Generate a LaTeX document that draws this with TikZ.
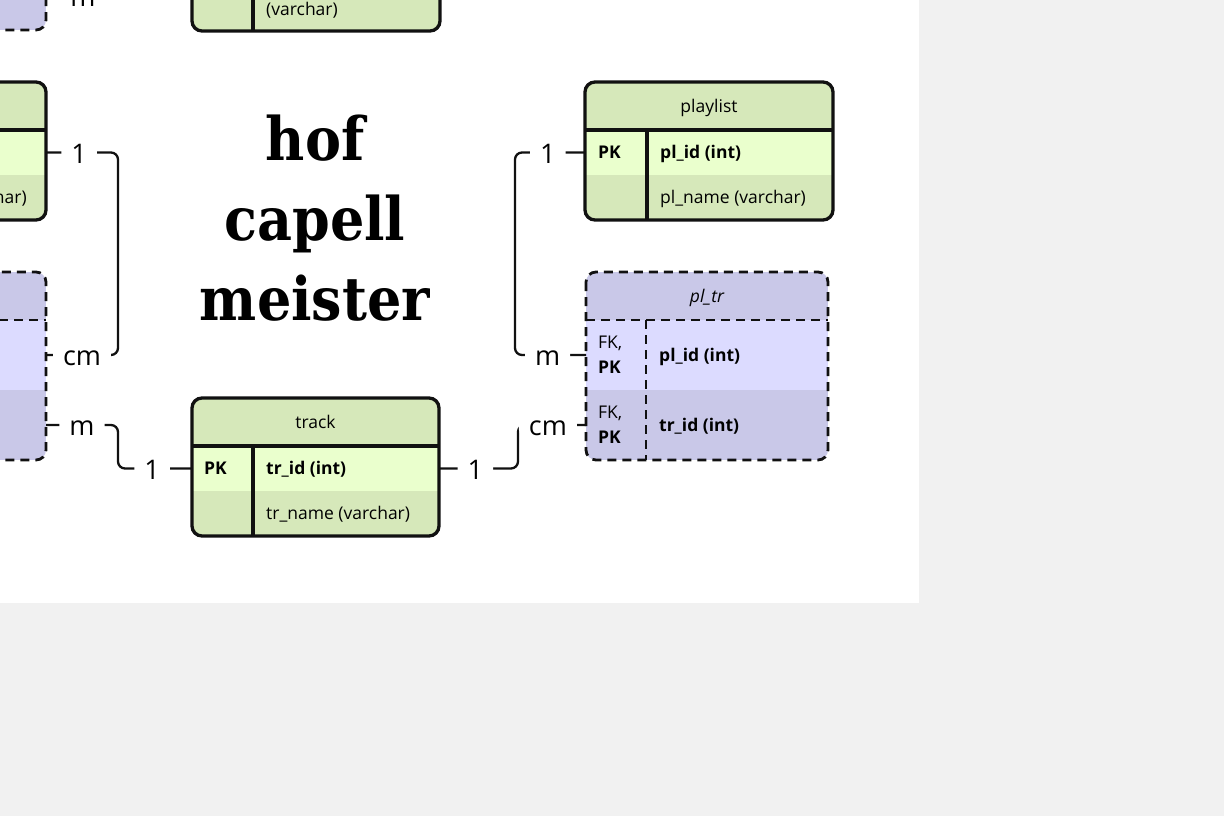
\documentclass[tikz,border=0pt]{standalone}
\usepackage{fontspec}
\setmainfont{Open Sans}
\newfontfamily\titlefont{DejaVu Serif Condensed Bold}
\usetikzlibrary{calc,positioning}

\definecolor{grhead}{RGB}{214,232,186}
\definecolor{grrow}{RGB}{234,255,205}
\definecolor{puhead}{RGB}{201,200,232}
\definecolor{purow}{RGB}{220,219,255}
\definecolor{ink}{RGB}{17,17,17}
\definecolor{paper}{RGB}{241,241,241}

\tikzset{
  tabframe/.style={draw=ink, line width=3.3pt, rounded corners=10pt},
  tabdframe/.style={tabframe, line width=2.8pt, dash pattern=on 9pt off 6pt},
  tabrule/.style={draw=ink, line width=3.3pt},
  tabdrule/.style={tabrule, line width=2.8pt, dash pattern=on 9pt off 6pt},
  tabpart/.style={minimum width=#1, inner sep=0pt, outer sep=0pt,
    font=\fontsize{17.5}{21}\selectfont, text height=12.5pt, text depth=0pt},
  tabhead/.style={tabpart=#1, minimum height=48pt},
  tabrow/.style={tabpart=#1, minimum height=45pt},
  tabtall/.style={tabpart=#1, minimum height=70pt},
  txt/.style={inner sep=0pt, font=\fontsize{17.5}{21}\selectfont,
    text height=12.5pt, text depth=0pt},
  keytwo/.style={inner sep=0pt, align=left, font=\fontsize{17.5}{25}\selectfont},
  tablink/.style={draw=ink, line width=2.3pt, rounded corners=7pt},
  card/.style={fill=white, inner xsep=10pt, inner ysep=1pt,
    text height=21pt, text depth=0pt, font=\fontsize{27}{30}\selectfont},
  ttl/.style={anchor=base, font=\titlefont\fontsize{60}{80}\selectfont},
}

\begin{document}
\begin{tikzpicture}[x=1pt, y=-1pt]
    \useasboundingbox (0,0) rectangle (1224,816);
    \clip (0,0) rectangle (1224,816);
    \fill[paper] (0,0) rectangle (1224,816);
    \fill[white] (0,0) rectangle (919,603);

    % top tables (cut off)
    \begin{scope}
        \clip[rounded corners=10pt] (-196,-158) rectangle (46,30);
        \node[tabhead=242, fill=puhead, anchor=north west] (tp) at (-196,-158) {};
        \node[tabtall=242, fill=purow, below=0pt of tp] (tp-1) {};
        \node[tabtall=242, fill=puhead, below=0pt of tp-1] (tp-2) {};
    \end{scope}
    \draw[tabdframe] (tp.north west) rectangle (tp-2.south east);
    \node[card] (tp-m) at (83,-3.5) {m};

    \begin{scope}
        \clip[rounded corners=10pt] (192,-132) rectangle (440,31);
        \node[tabhead=248, fill=grhead, anchor=north west] (tg) at (192,-132) {};
        \node[tabrow=248, fill=grrow, below=0pt of tg] (tg-1) {};
        \node[tabtall=248, fill=grhead, below=0pt of tg-1] (tg-2) {};
    \end{scope}
    \draw[tabrule] ($(tg-1.north west)+(61,0)$) -- ($(tg-2.south west)+(61,0)$);
    \draw[tabframe] (tg.north west) rectangle (tg-2.south east);
    \node[txt, anchor=west, right=74pt of tg-2.west, yshift=-13pt] {(varchar)};

    % left tables (cut off)
    \begin{scope}
        \clip[rounded corners=10pt] (-201,82) rectangle (46,220);
        \node[tabhead=247, fill=grhead, anchor=north west] (lg) at (-201,82) {};
        \node[tabrow=247, fill=grrow, below=0pt of lg] (lg-1) {};
        \node[tabrow=247, fill=grhead, below=0pt of lg-1] (lg-2) {};
    \end{scope}
    \draw[tabrule] (lg.south west) -- (lg.south east);
    \draw[tabframe] (lg.north west) rectangle (lg-2.south east);
    \node[txt, left=19pt of lg-2.east] {(varchar)};

    \begin{scope}
        \clip[rounded corners=10pt] (-196,272) rectangle (46,460);
        \node[tabhead=242, fill=puhead, anchor=north west] (lp) at (-196,272) {};
        \node[tabtall=242, fill=purow, below=0pt of lp] (lp-1) {};
        \node[tabtall=242, fill=puhead, below=0pt of lp-1] (lp-2) {};
    \end{scope}
    \draw[tabdrule] (lp.south west) -- (lp.south east);
    \draw[tabdframe] (lp.north west) rectangle (lp-2.south east);

    % track
    \begin{scope}
        \clip[rounded corners=10pt] (192,398) rectangle (439,536);
        \node[tabhead=247, fill=grhead, anchor=north west] (track) at (192,398) {track};
        \node[tabrow=247, fill=grrow, below=0pt of track] (track-1) {};
        \node[tabrow=247, fill=grhead, below=0pt of track-1] (track-2) {};
    \end{scope}
    \draw[tabrule] (track.south west) -- (track.south east);
    \draw[tabrule] ($(track-1.north west)+(61,0)$) -- ($(track-2.south west)+(61,0)$);
    \draw[tabframe] (track.north west) rectangle (track-2.south east);
    \node[txt, right=12pt of track-1.west] {\textbf{PK}};
    \node[txt, right=74pt of track-1.west] {\textbf{tr\_id (int)}};
    \node[txt, right=74pt of track-2.west] {tr\_name (varchar)};

    % playlist
    \begin{scope}
        \clip[rounded corners=10pt] (585,82) rectangle (833,220);
        \node[tabhead=248, fill=grhead, anchor=north west] (playlist) at (585,82) {playlist};
        \node[tabrow=248, fill=grrow, below=0pt of playlist] (playlist-1) {};
        \node[tabrow=248, fill=grhead, below=0pt of playlist-1] (playlist-2) {};
    \end{scope}
    \draw[tabrule] (playlist.south west) -- (playlist.south east);
    \draw[tabrule] ($(playlist-1.north west)+(62,0)$) -- ($(playlist-2.south west)+(62,0)$);
    \draw[tabframe] (playlist.north west) rectangle (playlist-2.south east);
    \node[txt, right=13pt of playlist-1.west] {\textbf{PK}};
    \node[txt, right=75pt of playlist-1.west] {\textbf{pl\_id (int)}};
    \node[txt, right=75pt of playlist-2.west] {pl\_name (varchar)};

    % pl_tr
    \begin{scope}
        \clip[rounded corners=10pt] (586,272) rectangle (828,460);
        \node[tabhead=242, fill=puhead, anchor=north west] (pltr) at (586,272) {\itshape pl\_tr};
        \node[tabtall=242, fill=purow, below=0pt of pltr] (pltr-1) {};
        \node[tabtall=242, fill=puhead, below=0pt of pltr-1] (pltr-2) {};
    \end{scope}
    \draw[tabdrule] (pltr.south west) -- (pltr.south east);
    \draw[tabdrule] ($(pltr-1.north west)+(60,0)$) -- ($(pltr-2.south west)+(60,0)$);
    \draw[tabdframe] (pltr.north west) rectangle (pltr-2.south east);
    \node[keytwo, right=12pt of pltr-1.west] {FK,\\\textbf{PK}};
    \node[txt, right=73pt of pltr-1.west] {\textbf{pl\_id (int)}};
    \node[keytwo, right=12pt of pltr-2.west] {FK,\\\textbf{PK}};
    \node[txt, right=73pt of pltr-2.west] {\textbf{tr\_id (int)}};

    % links
    \draw[tablink] (lg-1.east) -- node[card, pos=0.46] {1} ++(72,0)
        |- node[card, pos=0.75] {cm} (lp-1.east);
    \draw[tablink] (lp-2.east) -- node[card, pos=0.5] {m} ++(72,0)
        |- node[card, pos=0.73] {1} (track-1.west);
    \draw[tablink] (track-1.east) -- node[card, pos=0.46] {1} ++(79,0)
        |- node[card, pos=0.72] {cm} (pltr-2.west);
    \draw[tablink] (playlist-1.west) -- node[card, pos=0.53] {1} ++(-70,0)
        |- node[card, pos=0.73] {m} (pltr-1.west);

    % title
    \node[ttl] (ttl-1) at (315,160) {hof};
    \node[ttl] (ttl-2) at (315,240) {capell};
    \node[ttl] (ttl-3) at (315,320) {meister};
\end{tikzpicture}
\end{document}
